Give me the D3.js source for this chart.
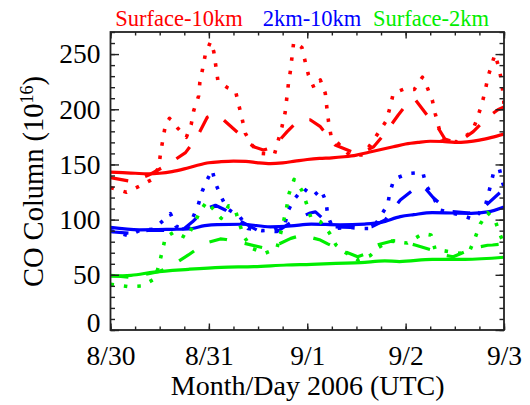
<!DOCTYPE html>
<html>
<head>
<meta charset="utf-8">
<script src="https://cdn.jsdelivr.net/npm/d3@7"></script>
<style>
  html, body { margin: 0; padding: 0; background: #fff; }
  svg { display: block; }
  text { font-family: "Liberation Serif", "Times New Roman", serif; }
</style>
</head>
<body>
<svg id="chart" width="530" height="405"></svg>
<script>
// CO column (10^16 molec/cm^2); x = hours since 8/30 00 UTC, 2006
const dayLabels = ["8/30", "8/31", "9/1", "9/2", "9/3"];
const dayHours = [0, 24, 48, 72, 96];
const yTickValues = [0, 50, 100, 150, 200, 250];
const layerNames = ["Surface-10km", "2km-10km", "Surface-2km"];

// Surface-10km
const redSolid = [[0,143],[3,142.5],[6,142],[9,141.5],[12,142],[15,143.5],[18,146],[21,149],[24,151.5],[27,152.5],[30,153],[33,152.8],[36,151.5],[39,150.8],[42,151.5],[45,153],[48,154.5],[51,155.5],[54,156],[57,157],[60,158.5],[63,161],[66,163.5],[69,166],[72,168.5],[75,170],[78,171],[81,170.8],[84,170],[87,170.5],[90,172],[93,174.5],[96,177.5]];
const redDash = [[0,138],[3,136],[5.3,134.4],[9.3,140.4],[13.8,149.5],[18.3,160.7],[21.1,174.6],[23.6,192.7],[25.6,195.7],[27.6,190.3],[31.7,176.7],[34.9,166],[37.3,163],[39.8,166],[43.1,179.7],[45.6,189],[47.1,191],[48.7,190.5],[51.2,184.2],[54.8,167.6],[58.9,161.5],[60.9,160],[64.2,166],[67,178.2],[70.2,194.8],[73.1,208.4],[74.3,209],[77.2,194.8],[80,182.7],[81.6,173],[84.6,169.5],[88.5,179.7],[92.2,193.3],[94.5,199.5],[96,202]];
const redDot = [[0,129],[3.9,124.8],[6.8,129.8],[10.2,136.5],[11.8,148],[12.2,160],[12.8,173],[13.4,185.7],[14.4,191.8],[16.3,183.3],[18.5,174.6],[19.7,186.4],[20.3,198.7],[21.5,212],[21.8,224.4],[22.5,237],[23.1,249],[24.4,261.2],[25.2,252.2],[26.2,225.9],[28.5,219.6],[30.5,216.5],[31.3,203.9],[32.1,191.5],[32.9,178.2],[34.5,167.6],[36.7,160.1],[40,159.2],[41.8,183.7],[42.6,196.9],[43.4,222.9],[43.9,235],[44.7,261],[46.7,256],[47.5,243.1],[48.3,231],[49.7,219],[51.2,226.5],[52.4,214.5],[52.8,200.9],[53.2,188.7],[53.8,175.8],[58.3,158.5],[61.7,158.5],[67.3,189.6],[68.2,201.8],[69,214.5],[71.6,218.3],[74.1,218],[76.1,229],[77.2,220.4],[78.5,208.4],[79.2,196.3],[80.9,172],[84.6,170.6],[88.2,179.7],[89.4,190.9],[90.6,204.8],[91.4,216.5],[92.1,229.5],[93.1,241.6],[93.8,249.8],[94.8,237],[95.5,223.5],[96,205]];

// 2km-10km
const blueSolid = [[0,93],[7,90.8],[15,91.2],[19,91.5],[23,94.5],[26,95.5],[32,95.8],[39,93.5],[44,94.3],[49,96],[56,95.3],[62,96],[66,97.5],[70.7,102.7],[74,104.5],[78.5,106.3],[88,105.7],[92,107],[96,111.5]];
const blueDash = [[0,89],[4.9,87.6],[9.5,90.5],[15.5,90],[18,92],[20,98],[23.1,109.4],[25.6,113],[28,108.7],[31.5,99],[36,90],[40.6,89],[45,100],[48.7,106],[50,107],[54,93.6],[58.5,93],[63.7,93.6],[67,99.7],[70.7,117.8],[74.3,128.4],[76.2,131],[78.7,120],[82.5,107.5],[87.7,106],[91,111],[95,124.5],[96,124]];
const blueDot = [[0,90],[4.4,85.5],[7.3,90.6],[10.4,91.2],[13,99.7],[14.6,105.5],[16,94],[18.7,90.6],[20,101],[21.4,113.3],[22.4,125.9],[23.5,135.5],[24.8,145],[25.6,133],[27,120.8],[28.4,110.2],[31.6,102.4],[33.5,92.1],[37,90],[40,90.5],[42.6,96.7],[43.4,108.7],[44.7,117.8],[47,128.4],[49.5,121.4],[51.3,127.5],[52.6,116.2],[53,103.3],[54.3,92],[58.1,93],[61.2,92],[64,92],[67.6,113.3],[68.2,125.3],[69.2,136.8],[72.7,141.9],[76.2,142.7],[77,131],[78.7,120.8],[80.3,108.7],[86,103.5],[88.5,100.3],[91.4,111.7],[92.8,132.3],[93.6,145],[94.9,145.5],[95.7,133],[96,130]];

// Surface-2km
const greenSolid = [[0,48.8],[5,49.5],[10.6,52.5],[19,55],[27,56.8],[35,57.4],[43,58.9],[49,59.5],[55,60.4],[61,61],[66.9,62.7],[70.5,62],[78.5,64],[86.5,64],[96,65.9]];
const greenDash = [[0,49.5],[4.9,47.7],[11.7,52.8],[14.6,57.4],[19,68],[23,78.5],[26.8,82.5],[28.2,82],[32.7,78.5],[37.5,74.3],[40.6,77],[44,83],[46.7,86],[51.2,81.5],[53,78],[56.2,72.5],[60.3,66.4],[63,70],[65,77],[69,80.9],[71,80.5],[74.3,77],[78.8,72],[81,68],[83.6,66.4],[87.6,72.5],[89.5,75],[92,76.8],[93.2,77],[96,78]];
const greenDot = [[0,41.5],[4.3,39.3],[7.7,39.9],[10.8,46.5],[11.8,58.5],[12.6,71],[13.4,84],[15.6,89],[18.5,83.3],[20.3,95.1],[21.7,106.5],[23.5,116.5],[25.6,107.2],[27,101.2],[28.8,112.5],[30.5,108],[31.4,97],[32.5,85],[34.5,74],[37.7,69.5],[40.6,74],[42.2,98],[43,111.7],[43.6,124],[44.8,136.5],[46.7,126.5],[47.8,114.8],[48.9,101.7],[51.2,98.1],[53.4,88],[55,77],[57,71],[60.4,63.4],[63.4,67.5],[65.4,75],[68.2,80.6],[72.4,78.8],[76.2,87.3],[78.2,86],[79.2,73],[85.3,69.5],[87.7,72.5],[88.9,83],[90.2,96],[92,106.3],[93.8,99.7],[94.9,87.6],[96,78]];

const RED = "#ff0000", BLUE = "#0000ff", GREEN = "#00ee00";

const svg = d3.select("#chart");
const plot = { left: 110.5, right: 504, top: 32, bottom: 330 };

const x = d3.scaleLinear().domain([0, 96]).range([plot.left, plot.right]);
const y = d3.scaleLinear().domain([0, 270]).range([plot.bottom, plot.top]);

// clip for the data
svg.append("defs").append("clipPath").attr("id", "plotClip")
  .append("rect")
  .attr("x", plot.left).attr("y", plot.top)
  .attr("width", plot.right - plot.left).attr("height", plot.bottom - plot.top);

const styles = {
  solid: { dash: null, width: 3.2, curve: d3.curveMonotoneX },
  dash:  { dash: "18,18", width: 3.2, curve: d3.curveLinear },
  dot:   { dash: "3.5,10", width: 3.6, curve: d3.curveLinear }
};

const series = [
  { data: redSolid, color: RED, style: "solid" },
  { data: redDash, color: RED, style: "dash" },
  { data: redDot, color: RED, style: "dot" },
  { data: blueSolid, color: BLUE, style: "solid" },
  { data: blueDash, color: BLUE, style: "dash" },
  { data: blueDot, color: BLUE, style: "dot" },
  { data: greenSolid, color: GREEN, style: "solid" },
  { data: greenDash, color: GREEN, style: "dash" },
  { data: greenDot, color: GREEN, style: "dot" }
];

const lines = svg.append("g").attr("clip-path", "url(#plotClip)");
series.forEach(s => {
  const st = styles[s.style];
  const gen = d3.line().x(d => x(d[0])).y(d => y(d[1])).curve(st.curve);
  lines.append("path")
    .attr("d", gen(s.data))
    .attr("fill", "none")
    .attr("stroke", s.color)
    .attr("stroke-width", st.width)
    .attr("stroke-linejoin", "round")
    .attr("stroke-dasharray", st.dash);
});

// axes: ticks point inward on all four sides
const axisColor = "#222";
const tickFont = "27.5px";
const minorY = d3.range(0, 271, 10);
const minorX = d3.range(0, 97, 6);

function styleAxis(g) {
  g.select(".domain").remove();
  g.selectAll(".tick line").attr("stroke", axisColor).attr("stroke-width", 1.4);
  g.selectAll("text").attr("fill", "#000").style("font-size", tickFont)
    .style("font-family", '"Liberation Serif", serif');
}

// left
svg.append("g").attr("transform", `translate(${plot.left},0)`)
  .call(d3.axisLeft(y).tickValues(minorY).tickSize(-4.5).tickFormat(""))
  .call(styleAxis);
const yAxisG = svg.append("g").attr("transform", `translate(${plot.left},0)`)
  .call(d3.axisLeft(y).tickValues(yTickValues).tickSize(-8.5).tickPadding(10).tickFormat(d3.format("d")))
  .call(styleAxis);
yAxisG.selectAll(".tick text").filter(d => d === 0).attr("dy", "0.05em");

// right
svg.append("g").attr("transform", `translate(${plot.right},0)`)
  .call(d3.axisRight(y).tickValues(minorY).tickSize(-4.5).tickFormat(""))
  .call(styleAxis);
svg.append("g").attr("transform", `translate(${plot.right},0)`)
  .call(d3.axisRight(y).tickValues(yTickValues).tickSize(-8.5).tickFormat(""))
  .call(styleAxis);

// bottom
svg.append("g").attr("transform", `translate(0,${plot.bottom})`)
  .call(d3.axisBottom(x).tickValues(minorX).tickSize(-3.5).tickFormat(""))
  .call(styleAxis);
svg.append("g").attr("transform", `translate(0,${plot.bottom})`)
  .call(d3.axisBottom(x).tickValues(dayHours).tickSize(-6.5).tickPadding(15.5)
    .tickFormat((d, i) => dayLabels[i]))
  .call(styleAxis);

// top
svg.append("g").attr("transform", `translate(0,${plot.top})`)
  .call(d3.axisTop(x).tickValues(minorX).tickSize(-3.5).tickFormat(""))
  .call(styleAxis);
svg.append("g").attr("transform", `translate(0,${plot.top})`)
  .call(d3.axisTop(x).tickValues(dayHours).tickSize(-6.5).tickFormat(""))
  .call(styleAxis);

// frame
svg.append("rect")
  .attr("x", plot.left).attr("y", plot.top)
  .attr("width", plot.right - plot.left).attr("height", plot.bottom - plot.top)
  .attr("fill", "none").attr("stroke", axisColor).attr("stroke-width", 1.8);

// axis titles
svg.append("text")
  .attr("x", (plot.left + plot.right) / 2 + 0.5).attr("y", 395)
  .attr("text-anchor", "middle").style("font-size", "28px")
  .text("Month/Day 2006 (UTC)");

const yTitle = svg.append("text")
  .attr("transform", "translate(43,181.5) rotate(-90)")
  .attr("text-anchor", "middle").style("font-size", "28.5px");
yTitle.append("tspan").text("CO Column (10");
yTitle.append("tspan").attr("dy", "-10").style("font-size", "18px").text("16");
yTitle.append("tspan").attr("dy", "10").text(")");

// layer names across the top
const titleColors = [RED, BLUE, GREEN];
const titleCenters = [179, 312, 431];
layerNames.forEach((name, i) => {
  svg.append("text")
    .attr("x", titleCenters[i]).attr("y", 26)
    .attr("text-anchor", "middle")
    .attr("fill", titleColors[i])
    .style("font-size", "22.5px")
    .text(name);
});
</script>
</body>
</html>
